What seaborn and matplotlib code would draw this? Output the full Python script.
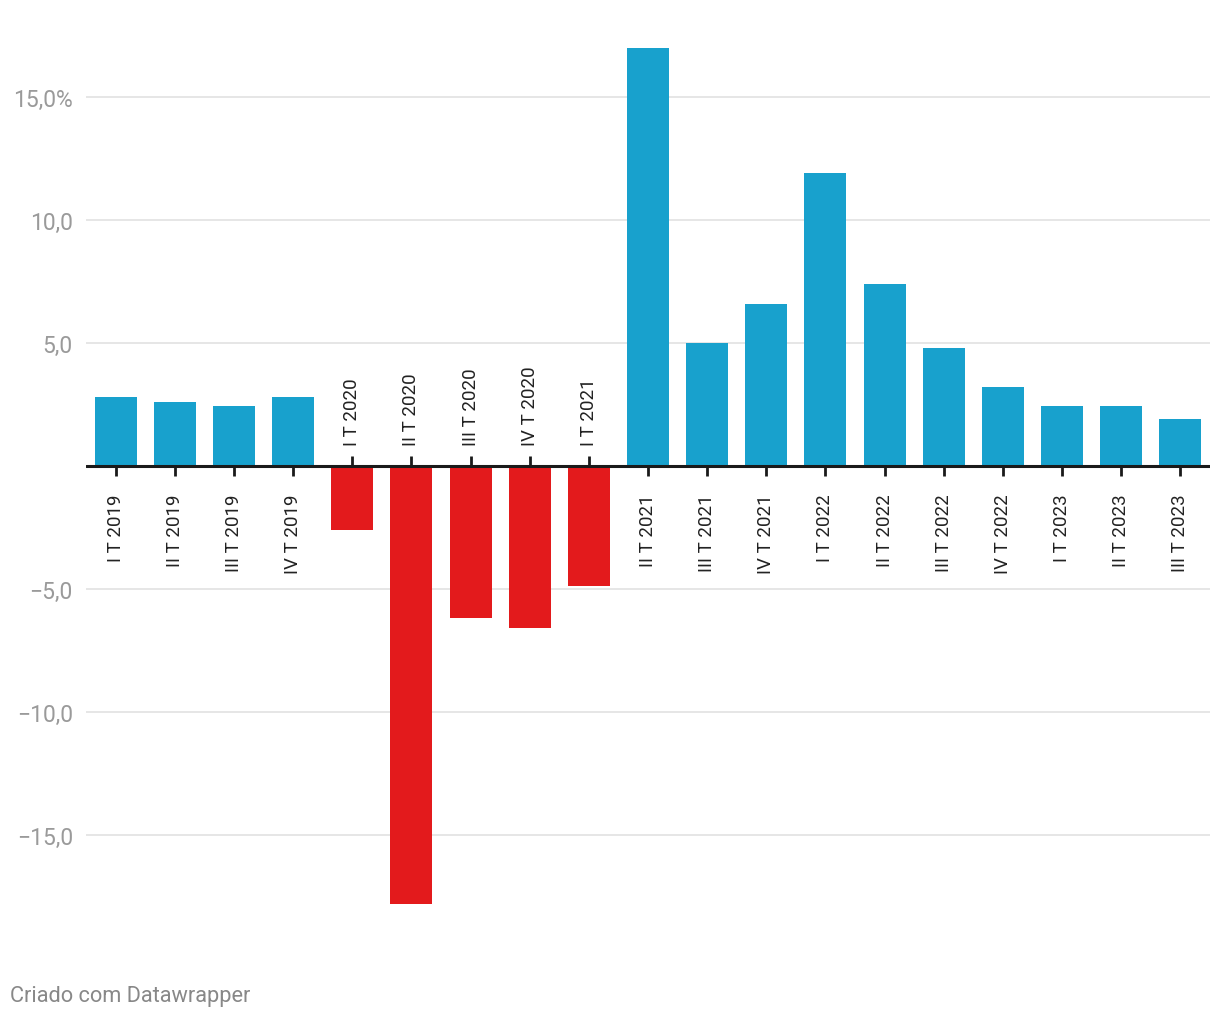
import pandas as pd
import seaborn as sns
import matplotlib.pyplot as plt
from matplotlib.transforms import offset_copy

# Quarterly growth (%)
quarters = ["I T 2019", "II T 2019", "III T 2019", "IV T 2019",
            "I T 2020", "II T 2020", "III T 2020", "IV T 2020",
            "I T 2021", "II T 2021", "III T 2021", "IV T 2021",
            "I T 2022", "II T 2022", "III T 2022", "IV T 2022",
            "I T 2023", "II T 2023", "III T 2023"]
growth = [2.8, 2.6, 2.45, 2.8,
          -2.6, -17.8, -6.2, -6.6,
          -4.9, 17.0, 5.0, 6.6,
          11.9, 7.4, 4.8, 3.2,
          2.45, 2.45, 1.9]
ytick_vals = [-15, -10, -5, 5, 10, 15]
ytick_labels = ["\u221215,0", "\u221210,0", "\u22125,0", "5,0", "10,0", "15,0%"]

df = pd.DataFrame({"quarter": quarters, "growth": growth})
df["sign"] = ["pos" if v >= 0 else "neg" for v in df["growth"]]

sns.set_theme(style="white")
plt.rcParams["font.family"] = ["Roboto", "DejaVu Sans"]

fig = plt.figure(figsize=(12.2, 10.2), dpi=100)
ax = fig.add_axes([86 / 1220, 0.1010, 1124 / 1220, 0.8608])

sns.barplot(data=df, x="quarter", y="growth", hue="sign",
            palette={"pos": "#18a1cd", "neg": "#e31a1c"},
            dodge=False, width=0.71, legend=False, ax=ax,
            saturation=1, linewidth=0, zorder=3)

ax.set_xlim(-0.5, len(quarters) - 0.5)
ax.set_ylim(-18.3, 17.4)

# grid + zero line
ax.set_yticks(ytick_vals)
ax.set_yticklabels(ytick_labels)
ax.grid(axis="y", color="#e2e2e2", lw=1.2, zorder=0)
ax.axhline(0, color="#1a1a1a", lw=2.2, zorder=4)
ax.tick_params(axis="y", length=0, pad=9.5, labelsize=16.5, labelcolor="#9a9a9a")
for lbl in ax.get_yticklabels():
    lbl.set_horizontalalignment("right")

# custom x ticks on the zero line, labels on the opposite side of the bar
ax.set_xticks([])
ax.set_xlabel("")
ax.set_ylabel("")
for i, (q, v) in enumerate(zip(quarters, growth)):
    if v >= 0:
        ax.plot(i, 0, ls="none", marker=3, ms=7.5, mew=2, color="#1a1a1a", zorder=5)
        tr = offset_copy(ax.transData, fig=fig, x=0, y=-20, units="points")
        ax.text(i, 0, q, rotation=90, ha="center", va="top", fontsize=13.5,
                color="#222222", transform=tr)
    else:
        ax.plot(i, 0, ls="none", marker=2, ms=7.5, mew=2, color="#1a1a1a", zorder=5)
        tr = offset_copy(ax.transData, fig=fig, x=0, y=15, units="points")
        ax.text(i, 0, q, rotation=90, ha="center", va="bottom", fontsize=13.5,
                color="#222222", transform=tr)

sns.despine(ax=ax, left=True, bottom=True)

fig.text(10 / 1220, 1 - 997 / 1020, "Criado com Datawrapper", fontsize=15.7,
         color="#888888", ha="left", va="center")

fig.savefig("out.png", dpi=100, facecolor="white")
